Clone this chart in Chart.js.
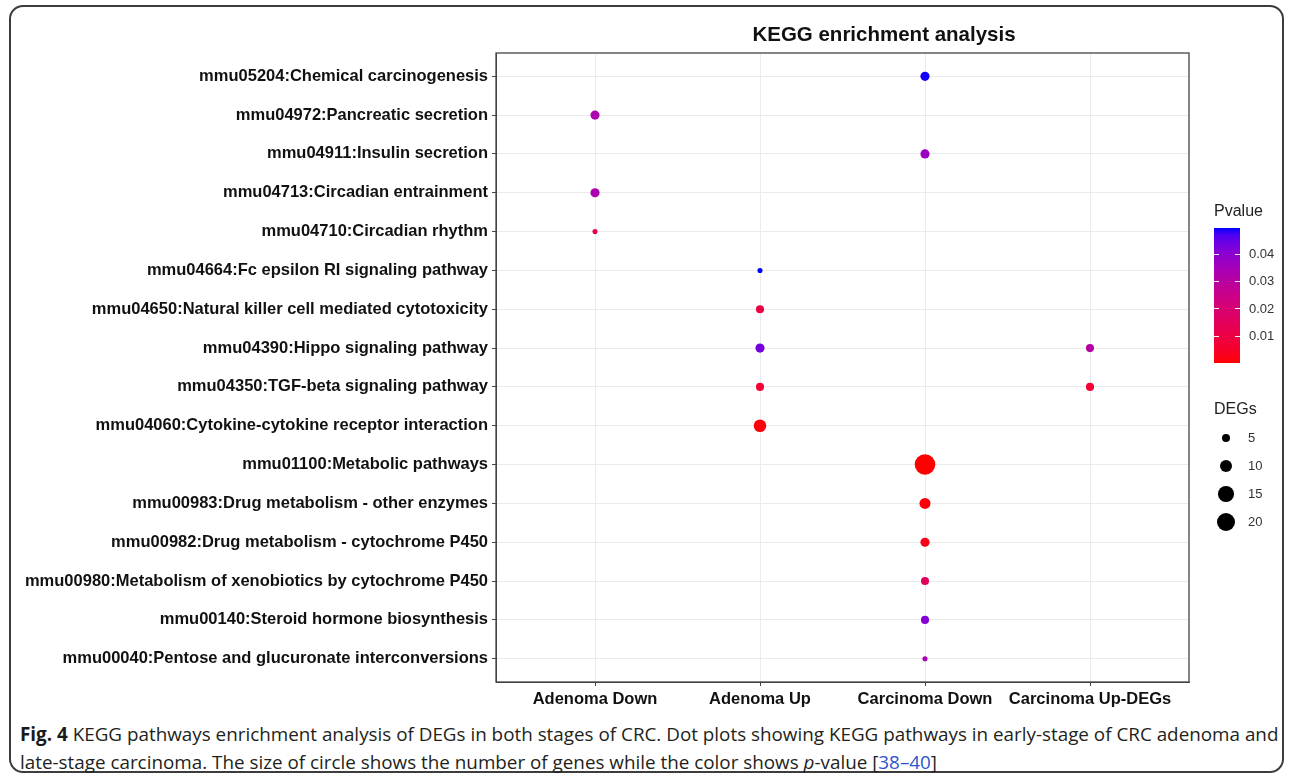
<!DOCTYPE html>
<html>
<head>
<meta charset="utf-8">
<script src="https://cdn.jsdelivr.net/npm/chart.js@4.4.1/dist/chart.umd.min.js"></script>
<style>
html, body { margin: 0; padding: 0; background: #fff; }
body { width: 1292px; height: 778px; position: relative; overflow: hidden; font-family: 'Liberation Sans', Arial, sans-serif; }
.frame { position: absolute; left: 9px; top: 5px; width: 1275px; height: 768px; border: 2px solid #3c3c3c; border-radius: 14px; box-sizing: border-box; }
#wrap { position: absolute; left: 0; top: 0; width: 1292px; height: 720px; }
.title { position: absolute; left: 884px; top: 22px; transform: translateX(-50%); font-weight: bold; font-size: 20.5px; color: #111; white-space: nowrap; }
.lg-title { position: absolute; left: 1214px; font-size: 16px; color: #222; }
.lg-text { position: absolute; font-size: 13px; color: #333; line-height: 14px; }
.colorbar { position: absolute; left: 1214px; top: 228px; width: 26px; height: 135px; }
.tick { position: absolute; height: 1px; width: 5px; background: #fff; }
.dot { position: absolute; background: #000; border-radius: 50%; }
.caption { position: absolute; left: 20px; top: 720px; font-family: 'Open Sans', sans-serif; font-size: 19px; color: #231f20; line-height: 28px; white-space: nowrap; transform-origin: left top; }
.caption b { color: #1a1a1a; }
.caption .ref { color: #2d55d0; }
</style>
</head>
<body>
<div class="frame"></div>
<div id="wrap"><canvas id="myChart"></canvas></div>
<div class="title">KEGG enrichment analysis</div>
<div id="legend"></div>
<div class="caption" id="caption">
  <div id="capLine1"><b>Fig. 4</b> KEGG pathways enrichment analysis of DEGs in both stages of CRC. Dot plots showing KEGG pathways in early-stage of CRC adenoma and</div>
  <div>late-stage carcinoma. The size of circle shows the number of genes while the color shows <i>p</i>-value [<span class="ref">38–40</span>]</div>
</div>
<script>
const groups = ['Adenoma Down', 'Adenoma Up', 'Carcinoma Down', 'Carcinoma Up-DEGs']
const pathways = [
	'mmu05204:Chemical carcinogenesis',
	'mmu04972:Pancreatic secretion',
	'mmu04911:Insulin secretion',
	'mmu04713:Circadian entrainment',
	'mmu04710:Circadian rhythm',
	'mmu04664:Fc epsilon RI signaling pathway',
	'mmu04650:Natural killer cell mediated cytotoxicity',
	'mmu04390:Hippo signaling pathway',
	'mmu04350:TGF-beta signaling pathway',
	'mmu04060:Cytokine-cytokine receptor interaction',
	'mmu01100:Metabolic pathways',
	'mmu00983:Drug metabolism - other enzymes',
	'mmu00982:Drug metabolism - cytochrome P450',
	'mmu00980:Metabolism of xenobiotics by cytochrome P450',
	'mmu00140:Steroid hormone biosynthesis',
	'mmu00040:Pentose and glucuronate interconversions',
]

// one entry per dot
const dotPathway = ['mmu05204', 'mmu04972', 'mmu04911', 'mmu04713', 'mmu04710', 'mmu04664', 'mmu04650', 'mmu04390', 'mmu04390', 'mmu04350', 'mmu04350', 'mmu04060', 'mmu01100', 'mmu00983', 'mmu00982', 'mmu00980', 'mmu00140', 'mmu00040']
const dotGroup = ['Carcinoma Down', 'Adenoma Down', 'Carcinoma Down', 'Adenoma Down', 'Adenoma Down', 'Adenoma Up', 'Adenoma Up', 'Adenoma Up', 'Carcinoma Up-DEGs', 'Adenoma Up', 'Carcinoma Up-DEGs', 'Adenoma Up', 'Carcinoma Down', 'Carcinoma Down', 'Carcinoma Down', 'Carcinoma Down', 'Carcinoma Down', 'Carcinoma Down']
const dotDEGs = [6, 6, 6, 6, 3, 3, 5, 6, 5, 5, 5, 10, 25, 8, 6, 5, 5, 3]
const dotPvalue = [0.0493, 0.033, 0.037, 0.033, 0.012, 0.0495, 0.010, 0.043, 0.031, 0.007, 0.007, 0.001, 0.0003, 0.001, 0.002, 0.015, 0.041, 0.034]

const pvalueTicks = [0.01, 0.02, 0.03, 0.04]
const degTicks = [5, 10, 15, 20]

const P_MIN = 0.0002
const P_MAX = 0.0495
const DEG_MIN = 2
const DEG_MAX = 25

// size scale (area-like)
function radius(n) {
	return 0.5 + 9.8 * Math.sqrt(Math.max(0, n - DEG_MIN) / (DEG_MAX - DEG_MIN))
}

// red -> blue gradient in Lab space, like ggplot
function toLin(c) { c /= 255; return c <= 0.04045 ? c / 12.92 : Math.pow((c + 0.055) / 1.055, 2.4) }
function fromLin(c) { c = c <= 0.0031308 ? 12.92 * c : 1.055 * Math.pow(c, 1 / 2.4) - 0.055; return Math.round(Math.min(1, Math.max(0, c)) * 255) }
function rgbToLab(r, g, b) {
	r = toLin(r); g = toLin(g); b = toLin(b)
	let x = (0.4124 * r + 0.3576 * g + 0.1805 * b) / 0.95047
	let y = 0.2126 * r + 0.7152 * g + 0.0722 * b
	let z = (0.0193 * r + 0.1192 * g + 0.9505 * b) / 1.08883
	const f = t => t > 0.008856 ? Math.cbrt(t) : 7.787 * t + 16 / 116
	x = f(x); y = f(y); z = f(z)
	return [116 * y - 16, 500 * (x - y), 200 * (y - z)]
}
function labToRgb(L, a, bb) {
	let y = (L + 16) / 116
	let x = a / 500 + y
	let z = y - bb / 200
	const fi = t => t * t * t > 0.008856 ? t * t * t : (t - 16 / 116) / 7.787
	x = fi(x) * 0.95047; y = fi(y); z = fi(z) * 1.08883
	const r = 3.2406 * x - 1.5372 * y - 0.4986 * z
	const g = -0.9689 * x + 1.8758 * y + 0.0415 * z
	const b = 0.0557 * x - 0.2040 * y + 1.0570 * z
	return 'rgb(' + fromLin(r) + ',' + fromLin(g) + ',' + fromLin(b) + ')'
}
const labLow = rgbToLab(255, 0, 0)
const labHigh = rgbToLab(0, 0, 255)
function pColor(p) {
	const t = Math.min(1, Math.max(0, (p - P_MIN) / (P_MAX - P_MIN)))
	return labToRgb(
		labLow[0] + (labHigh[0] - labLow[0]) * t,
		labLow[1] + (labHigh[1] - labLow[1]) * t,
		labLow[2] + (labHigh[2] - labLow[2]) * t,
	)
}

const points = dotPathway.map((code, i) => ({
	x: groups.indexOf(dotGroup[i]),
	y: pathways.findIndex(p => p.startsWith(code + ':')),
	r: radius(dotDEGs[i]),
}))

const panelBorder = {
	id: 'panelBorder',
	afterDraw(chart) {
		const { ctx, chartArea: a } = chart
		ctx.save()
		ctx.strokeStyle = '#444'
		ctx.lineWidth = 1.3
		ctx.strokeRect(a.left, a.top, a.right - a.left, a.bottom - a.top)
		ctx.restore()
	},
}

const tickFont = { family: "'Liberation Sans', Arial, sans-serif", size: 16.5, weight: 'bold' }

const chartConfig = {
	type: 'bubble',
	data: {
		datasets: [
			{
				data: points,
				backgroundColor: dotPvalue.map(pColor),
				borderWidth: 0,
				hoverBorderWidth: 0,
			},
		],
	},
	options: {
		responsive: true,
		maintainAspectRatio: false,
		animation: false,
		events: [],
		layout: { padding: { left: 0, right: 103, top: 53, bottom: 0 } },
		plugins: { legend: { display: false }, tooltip: { enabled: false } },
		scales: {
			x: {
				type: 'linear',
				min: -0.6,
				max: groups.length - 1 + 0.6,
				afterBuildTicks: s => { s.ticks = groups.map((g, i) => ({ value: i })) },
				afterFit: s => { s.height = 38 },
				ticks: { callback: v => groups[v], font: tickFont, color: '#111', padding: 4, maxRotation: 0, autoSkip: false },
				grid: { color: '#ebebeb', tickColor: '#444', tickLength: 4, lineWidth: 1 },
				border: { color: '#444', width: 1 },
			},
			y: {
				type: 'linear',
				reverse: true,
				min: -0.6,
				max: pathways.length - 1 + 0.6,
				afterBuildTicks: s => { s.ticks = pathways.map((p, i) => ({ value: i })) },
				afterFit: s => { s.width = 496 },
				ticks: { callback: v => pathways[v], font: tickFont, color: '#111', padding: 4, autoSkip: false },
				grid: { color: '#ebebeb', tickColor: '#444', tickLength: 4, lineWidth: 1 },
				border: { color: '#444', width: 1 },
			},
		},
	},
	plugins: [panelBorder],
}

// legends
const legend = document.getElementById('legend')
function add(cls, css, text) {
	const d = document.createElement('div')
	d.className = cls
	Object.assign(d.style, css)
	if (text !== undefined) d.textContent = text
	legend.appendChild(d)
	return d
}
const barTop = 228, barH = 135
add('lg-title', { top: '202px' }, 'Pvalue')
const stops = []
for (let i = 0; i <= 20; i++) {
	const p = P_MIN + (P_MAX - P_MIN) * i / 20
	stops.push(pColor(p) + ' ' + (i * 5) + '%')
}
add('colorbar', { background: 'linear-gradient(to top, ' + stops.join(', ') + ')' })
pvalueTicks.forEach(v => {
	const y = barTop + barH - (v - P_MIN) / (P_MAX - P_MIN) * barH
	add('tick', { left: '1214px', top: (y - 0.5) + 'px' })
	add('tick', { left: '1235px', top: (y - 0.5) + 'px' })
	add('lg-text', { left: '1249px', top: (y - 7) + 'px' }, v.toFixed(2))
})
add('lg-title', { top: '400px' }, 'DEGs')
const degY = [438, 466, 494, 522]
degTicks.forEach((n, i) => {
	const r = radius(n)
	add('dot', { left: (1226 - r) + 'px', top: (degY[i] - r) + 'px', width: 2 * r + 'px', height: 2 * r + 'px' })
	add('lg-text', { left: '1248px', top: (degY[i] - 7) + 'px' }, String(n))
})

// fit caption width
const cap = document.getElementById('caption')
const w1 = document.getElementById('capLine1').scrollWidth
cap.style.transform = 'scaleX(' + (1258 / w1) + ')'

const ctx = document.getElementById('myChart').getContext('2d')
new Chart(ctx, chartConfig)
</script>
</body>
</html>
